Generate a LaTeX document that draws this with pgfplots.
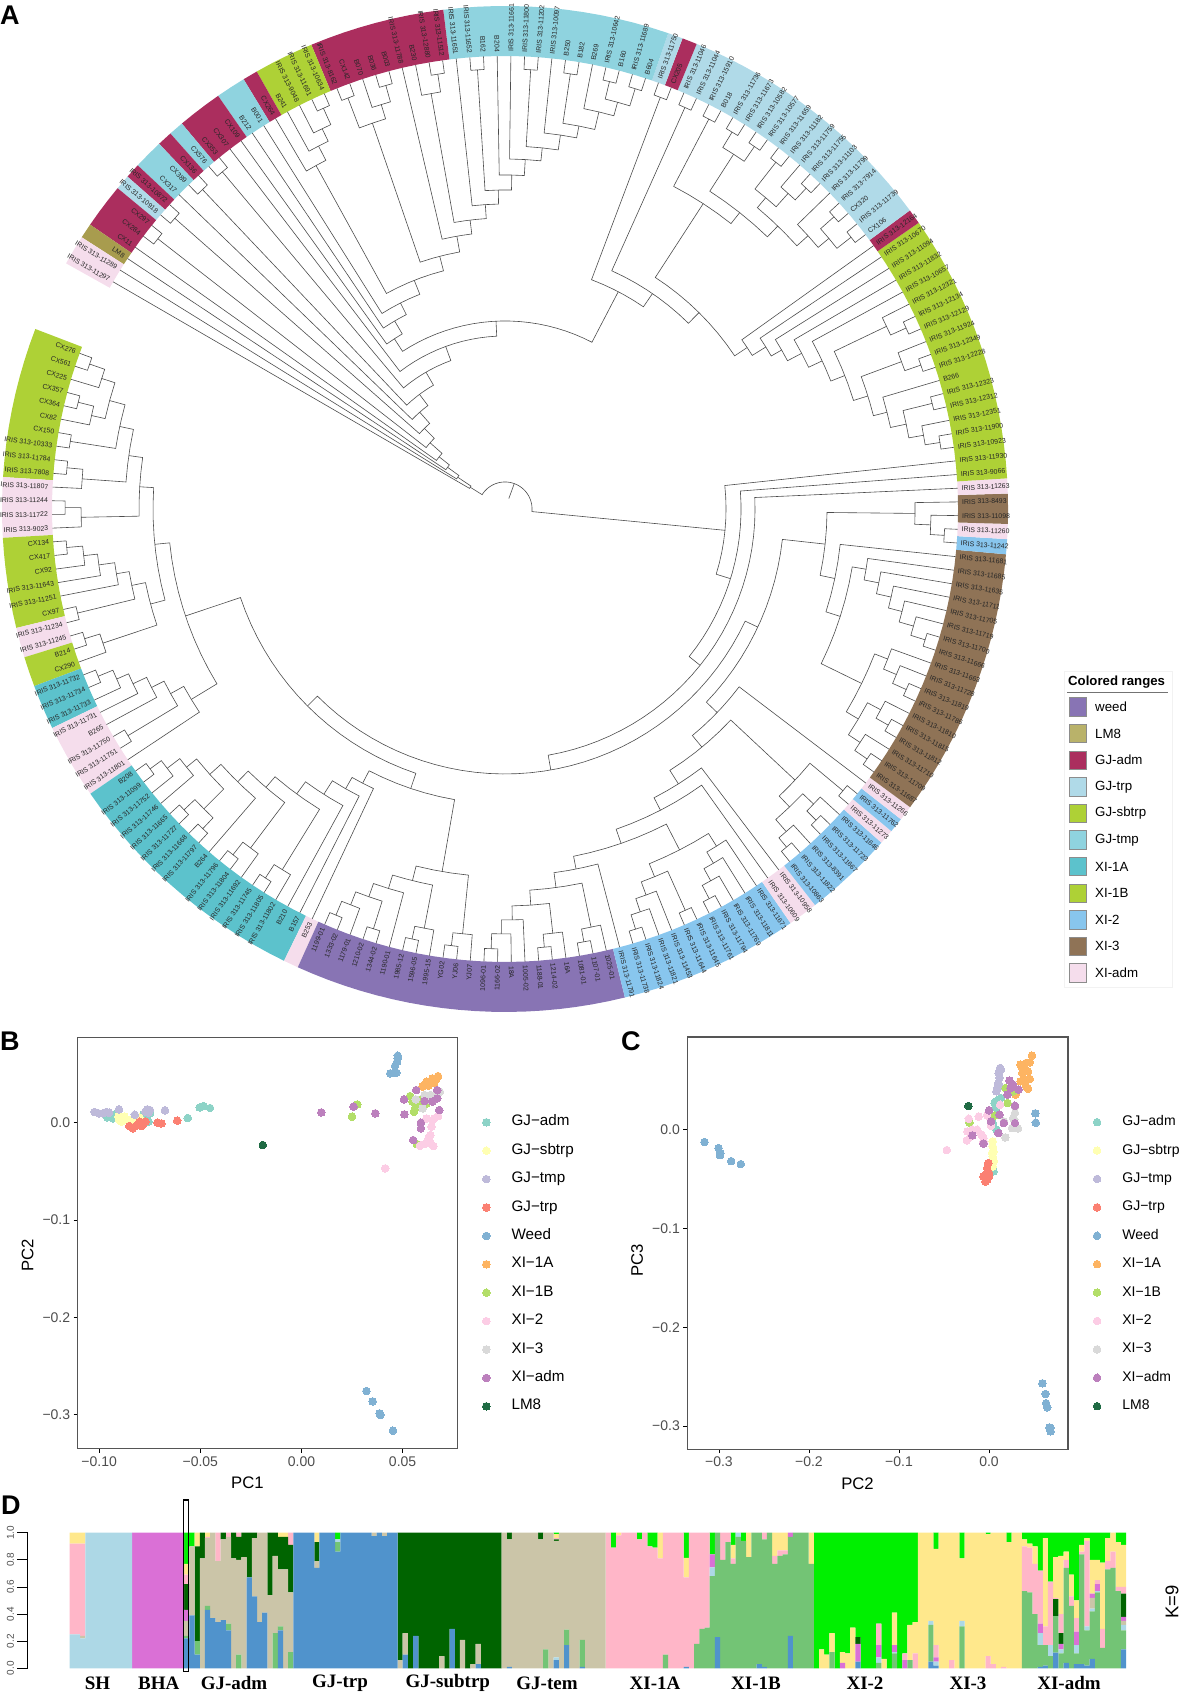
\documentclass[border=0pt]{standalone}
\usepackage{fontspec}
\setmainfont{Liberation Sans}
\newfontfamily\tms{Liberation Serif}
\usepackage{pgfplots}
\usepackage{pgfplotstable}
\pgfplotsset{compat=1.18}

% ranges of the tree
\definecolor{rWeed}{HTML}{8874B4}
\definecolor{rLM}{HTML}{A89C4E}
\definecolor{rLMk}{HTML}{B9B26A}
\definecolor{rAdm}{HTML}{AB2E5E}
\definecolor{rTrp}{HTML}{B0DAE8}
\definecolor{rSub}{HTML}{AED136}
\definecolor{rTmp}{HTML}{8FD3DF}
\definecolor{rOneA}{HTML}{5CC2CC}
\definecolor{rOneB}{HTML}{AED136}
\definecolor{rTwo}{HTML}{88C6EE}
\definecolor{rThree}{HTML}{8F7356}
\definecolor{rXadm}{HTML}{F5DDEC}
% PCA points
\definecolor{pAdm}{HTML}{8DD3C7}
\definecolor{pSub}{HTML}{FFFFB3}
\definecolor{pTmp}{HTML}{BEBADA}
\definecolor{pTrp}{HTML}{FB8072}
\definecolor{pWeed}{HTML}{80B1D3}
\definecolor{pOneA}{HTML}{FDB462}
\definecolor{pOneB}{HTML}{B3DE69}
\definecolor{pTwo}{HTML}{FCCDE5}
\definecolor{pThree}{HTML}{D9D9D9}
\definecolor{pXadm}{HTML}{BC80BD}
\definecolor{pLM}{HTML}{1F6B44}
\definecolor{tickgray}{HTML}{4D4D4D}
\definecolor{framegray}{HTML}{555555}
% structure bars
\definecolor{kB}{HTML}{5093CC}
\definecolor{kG}{HTML}{73C475}
\definecolor{kC}{HTML}{ADD8E6}
\definecolor{kK}{HTML}{CBC5A8}
\definecolor{kM}{HTML}{DA70D6}
\definecolor{kD}{HTML}{006400}
\definecolor{kP}{HTML}{FFB6C8}
\definecolor{kY}{HTML}{FFE88C}
\definecolor{kL}{HTML}{00F000}

\pgfplotsset{
  branch/.style={data cs=polar,draw=black!70,line width=0.6pt,mark=none},
  pt/.style={only marks,mark=*,mark size=3.8pt,color=#1,mark options={line width=0pt}},
  pca/.style={scale only axis,anchor=south west,
    tick align=outside,xtick pos=bottom,ytick pos=left,
    major tick length=4pt,tick style={black,line width=0.8pt},
    axis line style={draw=framegray,line width=1.2pt},
    tick label style={font=\fontsize{14}{16}\selectfont,text=tickgray},
    label style={font=\fontsize{16.7}{18}\selectfont},
    legend cell align=left,
    legend style={draw=none,fill=none,anchor=north west,
      font=\fontsize{14}{16}\selectfont,row sep=15.4pt,column sep=21.5pt,
      nodes={inner sep=0pt,text height=10pt,text depth=3pt}}},
}

% one node of the dendrogram: radius, lower subtree, upper subtree
\newcount\leafno
\def\rp{0}\def\rr{0}
\newcommand\lf{\global\advance\leafno 1
  \pgfmathsetmacro\tmpa{159.9+(\the\leafno-1)*1.7327}%
  \xdef\rp{\tmpa}\xdef\rr{453}}
\newcommand\nd[3]{\begingroup
  #2\let\pa\rp\let\ra\rr
  #3\let\pb\rp\let\rb\rr
  \pgfmathsetmacro\md{(\pa+\pb)/2}%
  \pgfmathtruncatemacro\ns{(\pb-\pa)/3}%
  \xdef\pts{(\pa,\ra)(\pa,#1)}%
  \ifnum\ns>0
    \foreach\k in {1,...,\ns}{%
      \pgfmathsetmacro\t{\pa+\k*(\pb-\pa)/(\ns+1)}\xdef\pts{\pts(\t,#1)}}%
  \fi
  \edef\cmd{\noexpand\addplot[branch] coordinates {\pts(\pb,#1)(\pb,\rb)};}\cmd
  \xdef\rp{\md}\xdef\rr{#1}\endgroup}
\newcommand\ch{\nd{440}{\lf}{\lf}}

% coloured range: first leaf, last leaf, colour
\newcommand\rng[3]{%
  \pgfmathsetmacro\aa{159.9+(#1-1.5)*1.7327}%
  \pgfmathsetmacro\ab{159.9+(#2-0.5)*1.7327}%
  \pgfmathtruncatemacro\ns{max(1,ceil((\ab-\aa)/2))}%
  \xdef\pts{}%
  \foreach\k in {0,...,\ns}{\pgfmathsetmacro\t{\aa+\k*(\ab-\aa)/\ns}\xdef\pts{\pts(\t,503)}}%
  \foreach\k in {\ns,...,0}{\pgfmathsetmacro\t{\aa+\k*(\ab-\aa)/\ns}\xdef\pts{\pts(\t,453)}}%
  \edef\cmd{\noexpand\addplot[data cs=polar,fill=#3,draw=none] coordinates {\pts} --cycle;}\cmd}

% clades, lower leaves first
\newcommand\cLeftA{\nd{366}{\nd{380}{\nd{394}{\nd{410}{\nd{424}{\ch}{\lf}}{\nd{424}{\ch}{\lf}}}{\ch}}{\nd{424}{\ch}{\lf}}}{\nd{424}{\ch}{\lf}}}
\newcommand\cLeftB{\nd{367}{\nd{381}{\nd{394}{\nd{410}{\nd{424}{\ch}{\lf}}{\lf}}{\lf}}{\ch}}{\nd{424}{\ch}{\lf}}}
\newcommand\cLeftC{\nd{367}{\nd{382}{\nd{396}{\nd{411}{\nd{424}{\ch}{\lf}}{\lf}}{\lf}}{\ch}}{\lf}}
\newcommand\cOneA{\nd{309}{\nd{322}{\nd{338}{\nd{353}{\nd{367}{\nd{382}{\nd{397}{\nd{410}{\nd{426}{\ch}{\lf}}{\lf}}{\nd{425}{\ch}{\ch}}}{\lf}}{\nd{424}{\ch}{\lf}}}{\nd{424}{\ch}{\lf}}}{\lf}}{\lf}}{\lf}}
\newcommand\cWeed{\nd{368}{\nd{383}{\nd{397}{\nd{411}{\nd{425}{\ch}{\lf}}{\ch}}{\lf}}{\nd{427}{\ch}{\lf}}}{\nd{427}{\ch}{\lf}}}
\newcommand\cY{\nd{279}{\nd{337}{\nd{352}{\cLeftA}{\cLeftB}}{\cLeftC}}{\nd{295}{\cOneA}{\cWeed}}}
\newcommand\cWeedB{\nd{367}{\nd{382}{\nd{397}{\nd{411}{\nd{425}{\ch}{\lf}}{\lf}}{\nd{427}{\ch}{\lf}}}{\nd{427}{\ch}{\lf}}}{\lf}}
\newcommand\cTwoA{\nd{383}{\nd{397}{\nd{411}{\nd{425}{\ch}{\lf}}{\lf}}{\ch}}{\nd{398}{\nd{411}{\nd{425}{\ch}{\lf}}{\lf}}{\lf}}}
\newcommand\cTwoB{\nd{397}{\nd{412}{\nd{428}{\ch}{\lf}}{\nd{427}{\ch}{\lf}}}{\ch}}
\newcommand\cWa{\nd{294}{\nd{309}{\nd{325}{\nd{339}{\nd{354}{\cWeedB}{\cTwoA}}{\lf}}{\lf}}{\cTwoB}}{\lf}}
\newcommand\cThA{\nd{397}{\nd{411}{\nd{425}{\ch}{\lf}}{\nd{426}{\ch}{\lf}}}{\nd{411}{\nd{425}{\ch}{\lf}}{\lf}}}
\newcommand\cThB{\nd{366}{\nd{381}{\nd{396}{\nd{410}{\nd{425}{\ch}{\lf}}{\lf}}{\lf}}{\lf}}{\lf}}
\newcommand\cWb{\nd{322}{\nd{337}{\nd{352}{\cThA}{\cThB}}{\lf}}{\nd{410}{\nd{426}{\ch}{\lf}}{\lf}}}
\newcommand\cLow{\nd{221}{\nd{236}{\nd{250}{\nd{265}{\cY}{\nd{279}{\cWa}{\cWb}}}{\lf}}{\lf}}{\lf}}
\newcommand\cSub{\nd{291}{\nd{307}{\nd{319}{\nd{335}{\nd{350}{\nd{365}{\nd{380}{\nd{394}{\nd{410}{\nd{425}{\ch}{\lf}}{\ch}}{\lf}}{\nd{423}{\ch}{\lf}}}{\nd{423}{\ch}{\lf}}}{\lf}}{\lf}}{\lf}}{\lf}}{\lf}}
\newcommand\cTrp{\nd{364}{\nd{378}{\nd{393}{\nd{408}{\nd{422}{\ch}{\ch}}{\lf}}{\nd{406}{\nd{424}{\ch}{\lf}}{\ch}}}{\nd{422}{\ch}{\ch}}}{\ch}}
\newcommand\cNa{\nd{245}{\nd{261}{\nd{276}{\cSub}{\cTrp}}{\ch}}{\ch}}
\newcommand\cTmp{\nd{305}{\nd{319}{\nd{334}{\nd{350}{\nd{363}{\nd{378}{\nd{390}{\nd{408}{\nd{422}{\ch}{\ch}}{\lf}}{\ch}}{\lf}}{\ch}}{\lf}}{\lf}}{\ch}}{\lf}}
\newcommand\cNb{\nd{203}{\nd{218}{\nd{231}{\nd{246}{\nd{261}{\nd{277}{\nd{291}{\cTmp}{\nd{422}{\ch}{\lf}}}{\lf}}{\nd{408}{\nd{423}{\ch}{\lf}}{\ch}}}{\nd{392}{\nd{408}{\nd{422}{\ch}{\lf}}{\lf}}{\lf}}}{\lf}}{\lf}}{\lf}}
\newcommand\cHigh{\nd{41}{\nd{57}{\nd{71}{\nd{84}{\nd{100}{\nd{114}{\nd{129}{\nd{143}{\nd{158}{\nd{173}{\nd{188}{\cNa}{\cNb}}{\lf}}{\ch}}{\ch}}{\lf}}{\ch}}{\ch}}{\lf}}{\lf}}{\lf}}{\lf}}

% ancestry proportions, per individual, bottom to top
\pgfplotstableread{
i B G C K M D P Y L
0 0 0 .25 0 0 0 .67 .08 0
1 0 0 .25 0 0 0 .67 .08 0
2 0 0 .22 .02 0 0 .68 .08 0
3 0 0 1 0 0 0 0 0 0
4 0 0 1 0 0 0 0 0 0
5 0 0 1 0 0 0 0 0 0
6 0 0 1 0 0 0 0 0 0
7 0 0 1 0 0 0 0 0 0
8 0 0 1 0 0 0 0 0 0
9 0 0 1 0 0 0 0 0 0
10 0 0 1 0 0 0 0 0 0
11 0 0 1 0 0 0 0 0 0
12 0 0 0 0 1 0 0 0 0
13 0 0 0 0 1 0 0 0 0
14 0 0 0 0 1 0 0 0 0
15 0 0 0 0 1 0 0 0 0
16 0 0 0 0 1 0 0 0 0
17 0 0 0 0 1 0 0 0 0
18 0 0 0 0 1 0 0 0 0
19 0 0 0 0 1 0 0 0 0
20 0 0 0 0 1 0 0 0 0
21 0 0 0 0 1 0 0 0 0
22 .22 .02 0 .11 .08 .19 .07 .08 .23
23 .39 0 0 .51 0 0 0 0 .10
24 .10 .10 0 0 0 .70 0 .10 0
25 0 0 0 .81 0 .19 0 0 0
26 .43 .03 0 .50 0 0 .01 .03 0
27 .37 0 0 .63 0 0 0 0 0
28 .34 0 0 .45 0 0 .21 0 0
29 .355 0 0 .595 0 .05 0 0 0
30 .28 .05 0 .64 0 0 .03 0 0
31 0 0 0 .81 0 .19 0 0 0
32 0 .10 0 .70 0 .17 .03 0 0
33 0 0 0 .82 0 .18 0 0 0
34 .67 0 0 0 0 .33 0 0 0
35 .53 0 0 .43 0 .04 0 0 0
36 .34 0 0 .66 0 0 0 0 0
37 .41 0 0 .59 0 0 0 0 0
38 0 0 0 .54 0 .46 0 0 0
39 0 .26 0 .57 0 .17 0 0 0
40 .28 .03 0 .42 0 .24 0 .03 0
41 0 0 0 .73 0 .24 0 .03 0
42 0 .12 0 .44 0 .35 .09 0 0
43 1 0 0 0 0 0 0 0 0
44 1 0 0 0 0 0 0 0 0
45 1 0 0 0 0 0 0 0 0
46 1 0 0 0 0 0 0 0 0
47 .74 0 0 .05 0 .14 0 .07 0
48 1 0 0 0 0 0 0 0 0
49 1 0 0 0 0 0 0 0 0
50 1 0 0 0 0 0 0 0 0
51 .86 .07 .02 0 0 0 0 0 .05
52 1 0 0 0 0 0 0 0 0
53 1 0 0 0 0 0 0 0 0
54 1 0 0 0 0 0 0 0 0
55 1 0 0 0 0 0 0 0 0
56 1 0 0 0 0 0 0 0 0
57 1 0 0 0 0 0 0 0 0
58 .975 0 0 .025 0 0 0 0 0
59 1 0 0 0 0 0 0 0 0
60 .975 0 0 .025 0 0 0 0 0
61 1 0 0 0 0 0 0 0 0
62 1 0 0 0 0 0 0 0 0
63 0 0 0 .06 0 .94 0 0 0
64 .10 0 0 .16 0 .74 0 0 0
65 0 0 0 0 0 1 0 0 0
66 .24 0 0 0 0 .76 0 0 0
67 0 0 0 0 0 1 0 0 0
68 0 0 0 0 0 1 0 0 0
69 0 0 0 0 0 1 0 0 0
70 0 0 0 0 0 1 0 0 0
71 0 0 0 .09 0 .91 0 0 0
72 0 0 0 0 0 1 0 0 0
73 .29 0 0 0 0 .71 0 0 0
74 0 0 0 0 0 1 0 0 0
75 0 0 0 .21 0 .79 0 0 0
76 0 0 0 0 0 1 0 0 0
77 0 0 0 .03 0 .97 0 0 0
78 .03 0 0 .15 0 .82 0 0 0
79 0 0 0 0 0 1 0 0 0
80 0 0 0 0 0 1 0 0 0
81 0 0 0 0 0 1 0 0 0
82 0 0 0 0 0 1 0 0 0
83 0 0 0 1 0 0 0 0 0
84 .01 0 0 .94 0 .05 0 0 0
85 0 0 0 1 0 0 0 0 0
86 0 0 0 1 0 0 0 0 0
87 0 0 0 1 0 0 0 0 0
88 0 0 0 1 0 0 0 0 0
89 0 0 0 1 0 0 0 0 0
90 0 0 0 .95 0 .05 0 0 0
91 0 .14 0 .86 0 0 0 0 0
92 0 0 0 1 0 0 0 0 0
93 .06 0 .02 .86 0 .01 .01 .03 .01
94 0 0 0 1 0 0 0 0 0
95 .17 .115 0 .715 0 0 0 0 0
96 0 0 0 1 0 0 0 0 0
97 0 0 0 1 0 0 0 0 0
98 .01 .20 0 .79 0 0 0 0 0
99 0 0 0 1 0 0 0 0 0
100 0 0 0 1 0 0 0 0 0
101 0 0 0 1 0 0 0 0 0
102 0 0 0 1 0 0 0 0 0
103 0 0 0 0 0 0 1 0 0
104 0 0 0 0 0 0 .89 0 .11
105 0 0 0 0 0 0 .98 .02 0
106 0 0 0 0 0 0 1 0 0
107 0 0 0 0 0 0 1 0 0
108 0 0 0 0 0 0 1 0 0
109 0 0 0 0 0 0 .95 0 .05
110 0 0 0 0 0 0 1 0 0
111 0 0 0 0 0 0 .90 0 .10
112 0 0 0 0 0 0 .89 0 .11
113 0 0 0 0 0 0 .81 .19 0
114 0 .10 0 0 0 0 .90 0 0
115 0 0 0 0 0 0 1 0 0
116 0 0 0 0 0 0 1 0 0
117 0 0 0 0 0 0 1 0 0
118 .01 0 0 0 0 0 .66 .145 .185
119 0 0 0 0 0 0 1 0 0
120 0 .18 0 0 0 0 .82 0 0
121 0 .29 0 0 0 0 .71 0 0
122 0 .30 0 0 0 0 .70 0 0
123 0 .68 .065 0 .095 0 0 0 .16
124 .23 .77 0 0 0 0 0 0 0
125 0 .80 0 0 0 0 .20 0 0
126 0 .93 0 0 0 0 .07 0 0
127 0 .77 0 0 0 0 .04 .10 .09
128 0 .97 .03 0 0 0 0 0 0
129 0 .94 0 0 0 0 0 0 .06
130 0 .82 0 0 0 0 0 .18 0
131 0 1 0 0 0 0 0 0 0
132 .03 .97 0 0 0 0 0 0 0
133 .01 .94 0 0 0 0 .05 0 0
134 0 1 0 0 0 0 0 0 0
135 0 .77 0 0 0 0 .06 .17 0
136 0 .83 0 0 0 0 .04 .13 0
137 0 .84 0 0 0 0 .03 .13 0
138 .24 .73 0 0 .03 0 0 0 0
139 0 1 0 0 0 0 0 0 0
140 0 1 0 0 0 0 0 0 0
141 0 1 0 0 0 0 0 0 0
142 0 .77 0 0 0 0 0 .23 0
143 0 0 0 0 0 0 0 0 1
144 0 0 0 0 0 0 0 .14 .86
145 0 0 0 0 0 0 0 .10 .90
146 0 .12 0 0 0 0 0 .14 .74
147 0 0 0 0 0 0 0 0 1
148 0 0 0 0 .04 0 0 .08 .88
149 0 0 0 0 0 0 0 .11 .89
150 0 0 0 0 0 0 0 .30 .70
151 .05 0 0 0 .13 .05 0 0 .77
152 0 0 0 0 0 0 0 0 1
153 0 0 0 0 0 0 0 0 1
154 0 0 0 0 0 0 0 0 1
155 0 .04 .04 0 .09 0 .16 0 .67
156 0 0 0 0 0 0 0 .07 .93
157 0 0 0 0 0 0 0 0 1
158 0 .11 .01 0 .05 0 0 .24 .59
159 0 0 0 0 0 0 0 0 1
160 0 0 0 0 .06 0 .05 0 .89
161 0 .06 0 0 0 0 0 .26 .68
162 0 0 0 0 0 0 .11 .23 .66
163 0 0 0 0 0 0 0 1 0
164 0 0 0 0 0 0 0 1 0
165 .05 .27 .03 0 0 0 0 .65 0
166 .02 0 .03 0 .03 0 .09 .71 .12
167 0 0 0 0 0 0 0 1 0
168 0 0 0 0 0 0 0 1 0
169 0 0 0 0 0 0 .06 .94 0
170 0 0 0 0 0 0 0 1 0
171 0 .31 .04 0 0 0 0 .46 .19
172 0 0 0 0 0 0 0 1 0
173 0 0 0 0 0 0 0 1 0
174 0 0 0 0 0 0 0 1 0
175 0 0 0 0 0 0 0 1 0
176 0 0 0 0 0 0 .09 .90 .01
177 0 0 0 0 0 0 .03 .97 0
178 0 0 0 0 0 0 0 1 0
179 0 0 0 0 0 0 .01 .99 0
180 0 0 0 0 0 0 0 .93 .07
181 0 0 0 0 0 0 0 1 0
182 0 0 0 0 0 0 0 1 0
183 0 .57 0 0 0 0 .33 .05 .05
184 0 .56 0 0 0 0 .33 .03 .08
185 0 .40 0 0 0 0 .37 .13 .10
186 .01 .16 .09 0 .07 0 .39 0 .28
187 .02 .15 0 0 0 0 .14 .65 .04
188 0 .09 .08 0 0 0 .47 0 .36
189 .115 .27 0 0 0 .125 .01 .30 .18
190 0 .11 .03 0 .04 .08 .14 .43 .17
191 .04 .70 0 0 0 0 .06 .06 .14
192 0 .46 0 0 0 0 .07 .16 .31
193 .03 .08 .06 0 .10 0 .10 .13 .50
194 .03 .81 0 0 0 0 .02 .05 .09
195 .02 .26 .03 0 0 0 .63 .02 .04
196 .07 .35 .02 .08 .03 0 0 .25 .20
197 0 .56 .01 0 .05 0 .03 .15 .20
198 0 .15 0 0 0 0 .14 .49 .22
199 0 .73 0 0 0 0 .06 .17 .04
200 0 .74 0 0 0 0 .12 .14 0
201 0 .57 0 0 0 0 .03 .33 .07
202 .14 .14 .04 .03 .03 .17 .05 .31 .09
}\structtab

\newcommand\I{IRIS 313-}

\begin{document}
\begin{tikzpicture}
\useasboundingbox (0,0) rectangle (1181pt,1693pt);

% ---- A: circular tree, polar data around the centre of the ring
\begin{axis}[at={(0,0)},anchor=south west,scale only axis,width=1181pt,height=1693pt,
  xmin=-505,xmax=676,ymin=-1184,ymax=509,hide axis,clip=false]
  \rng{1}{10}{rOneB}\rng{11}{14}{rXadm}\rng{15}{20}{rOneB}\rng{21}{22}{rXadm}
  \rng{23}{24}{rOneB}\rng{25}{27}{rOneA}\rng{28}{32}{rXadm}\rng{33}{49}{rOneA}
  \rng{50}{50}{rXadm}\rng{51}{72}{rWeed}\rng{73}{84}{rTwo}\rng{85}{86}{rXadm}
  \rng{87}{92}{rTwo}\rng{93}{93}{rXadm}\rng{94}{94}{rTwo}\rng{95}{95}{rXadm}
  \rng{96}{113}{rThree}\rng{114}{114}{rTwo}\rng{115}{115}{rXadm}\rng{116}{117}{rThree}
  \rng{118}{118}{rXadm}\rng{119}{136}{rSub}\rng{137}{137}{rAdm}\rng{138}{155}{rTrp}
  \rng{156}{156}{rAdm}\rng{157}{157}{rTrp}\rng{158}{172}{rTmp}\rng{173}{181}{rAdm}
  \rng{182}{185}{rSub}\rng{186}{186}{rAdm}\rng{187}{188}{rTmp}\rng{189}{191}{rAdm}
  \rng{192}{192}{rTmp}\rng{193}{193}{rAdm}\rng{194}{195}{rTmp}\rng{196}{196}{rAdm}
  \rng{197}{197}{rTrp}\rng{198}{200}{rAdm}\rng{201}{201}{rLM}\rng{202}{203}{rXadm}
  \nd{27}{\cLow}{\cHigh}
  \addplot[branch] coordinates {(70,11)(70,27)};
\end{axis}

% ---- B
\begin{axis}[pca,at={(77.7pt,244.3pt)},width=379.6pt,height=411.4pt,
  xmin=-0.1106,xmax=0.07703,ymin=-0.3347,ymax=0.0877,
  xtick={-0.10,-0.05,0,0.05},xticklabels={−0.10,−0.05,0.00,0.05},
  ytick={-0.3,-0.2,-0.1,0},yticklabels={−0.3,−0.2,−0.1,0.0},
  xlabel={PC1},ylabel={PC2},
  xlabel style={at={(axis description cs:0.447,-0.083)},anchor=center},
  ylabel style={at={(axis description cs:-0.132,0.47)},anchor=center},
  legend style={at={(axis description cs:1.058,0.8145)},font=\fontsize{15.2}{17}\selectfont}]
  \addplot[pt=pAdm] coordinates {(-0.0942,0.0062)(-0.0960,0.0055)(-0.0932,0.0044)(-0.0913,0.0096)(-0.0781,0.0089)(-0.0762,0.0062)(-0.0749,0.0096)(-0.0756,0.0010)(-0.0562,0.0048)(-0.0503,0.0157)(-0.0484,0.0171)(-0.0452,0.0151)(-0.0923,0.0079)(-0.0771,0.0027)};
  \addlegendentry{GJ−adm}
  \addplot[pt=pSub] coordinates {(-0.0904,0.0062)(-0.0885,0.0044)(-0.0866,0.0034)(-0.0889,0.0010)(-0.0838,0.0034)(-0.0800,0.0055)(-0.0900,0.0027)(-0.0875,0.0062)};
  \addlegendentry{GJ−sbtrp}
  \addplot[pt=pTmp] coordinates {(-0.1023,0.0110)(-0.1002,0.0096)(-0.0983,0.0096)(-0.0951,0.0103)(-0.0902,0.0137)(-0.0824,0.0082)(-0.0771,0.0113)(-0.0749,0.0130)(-0.0762,0.0137)(-0.0675,0.0127)(-0.0964,0.0110)(-0.0756,0.0103)};
  \addlegendentry{GJ−tmp}
  \addplot[pt=pTrp] coordinates {(-0.0851,-0.0034)(-0.0834,-0.0058)(-0.0819,-0.0034)(-0.0800,-0.0024)(-0.0781,-0.0014)(-0.0771,0.0010)(-0.0800,0.0010)(-0.0711,0)(-0.0692,-0.0007)(-0.0614,0.0021)(-0.0790,-0.0034)};
  \addlegendentry{GJ−trp}
  \addplot[pt=pWeed] coordinates {(0.0476,0.0688)(0.0476,0.0660)(0.0473,0.0626)(0.0463,0.0585)(0.0439,0.0507)(0.0458,0.0513)(0.0469,0.0513)(0.0321,-0.2755)(0.0352,-0.2861)(0.0386,-0.2984)(0.0391,-0.3001)(0.0452,-0.3162)};
  \addlegendentry{Weed}
  \addplot[pt=pOneA] coordinates {(0.0675,0.0479)(0.0647,0.0455)(0.0618,0.0421)(0.0666,0.0445)(0.0637,0.0404)(0.0609,0.0387)(0.0656,0.0411)(0.0599,0.0370)(0.0628,0.0380)};
  \addlegendentry{XI−1A}
  \addplot[pt=pOneB] coordinates {(0.0276,0.0188)(0.0250,0.0062)(0.0537,0.0274)(0.0548,0.0216)(0.0562,0.0147)(0.0556,0.0113)(0.0571,0.0181)(0.0586,0.0233)(0.0618,0.0198)(0.0571,-0.0219)(0.0599,0.0157)};
  \addlegendentry{XI−1B}
  \addplot[pt=pTwo] coordinates {(0.0414,-0.0469)(0.0586,-0.0236)(0.0609,-0.0219)(0.0637,-0.0212)(0.0652,-0.0240)(0.0637,-0.0127)(0.0643,-0.0041)(0.0647,0.0027)(0.0675,0.0068)(0.0618,0.0044)(0.0656,0.0044)(0.0628,-0.0161)};
  \addlegendentry{XI−2}
  \addplot[pt=pThree] coordinates {(0.0565,0.0240)(0.0609,0.0284)(0.0637,0.0284)(0.0656,0.0267)(0.0684,0.0318)(0.0599,0.0147)(0.0628,0.0233)(0.0666,0.0301)};
  \addlegendentry{XI−3}
  \addplot[pt=pXadm] coordinates {(0.0098,0.0106)(0.0257,0.0164)(0.0365,0.0096)(0.0509,0.0086)(0.0507,0.0240)(0.0567,0.0335)(0.0552,-0.0178)(0.0590,0)(0.0590,-0.0058)(0.0681,0.0130)(0.0671,0.0250)(0.0647,0.0216)(0.0609,0.0222)(0.0671,0.0335)};
  \addlegendentry{XI−adm}
  \addplot[pt=pLM] coordinates {(-0.0191,-0.0229)};
  \addlegendentry{LM8}
\end{axis}

% ---- C
\begin{axis}[pca,at={(687.4pt,243.7pt)},width=380.6pt,height=412.3pt,
  xmin=-0.335,xmax=0.0877,ymin=-0.3236,ymax=0.0939,
  xtick={-0.3,-0.2,-0.1,0},xticklabels={−0.3,−0.2,−0.1,0.0},
  ytick={-0.3,-0.2,-0.1,0},yticklabels={−0.3,−0.2,−0.1,0.0},
  xlabel={PC2},ylabel={PC3},
  xlabel style={at={(axis description cs:0.447,-0.083)},anchor=center},
  ylabel style={at={(axis description cs:-0.132,0.458)},anchor=center},
  legend style={at={(axis description cs:1.058,0.8145)}}]
  \addplot[pt=pAdm] coordinates {(0.0049,-0.0422)(0.0082,0)(0.0041,0.0068)(0.0062,0.0270)(0.0103,0.0304)(0.0082,0.0220)(0.0132,0.0321)(0.0033,0.0084)(0.0074,0.0287)(0.0091,0.0253)};
  \addlegendentry{GJ−adm}
  \addplot[pt=pSub] coordinates {(0.0041,-0.0118)(0.0041,-0.0169)(0.0049,-0.0220)(0.0041,-0.0270)(0.0053,-0.0321)(0.0033,-0.0236)(0.0041,-0.0372)};
  \addlegendentry{GJ−sbtrp}
  \addplot[pt=pTmp] coordinates {(0.0123,0.0625)(0.0107,0.0574)(0.0115,0.0524)(0.0103,0.0473)(0.0091,0.0422)(0.0123,0.0439)(0.0082,0.0389)(0.0132,0.0608)};
  \addlegendentry{GJ−tmp}
  \addplot[pt=pTrp] coordinates {(-0.0008,-0.0338)(-0.0021,-0.0389)(-0.0041,-0.0456)(0,-0.0473)(-0.0041,-0.0524)(0,-0.0439)(-0.0062,-0.0473)(-0.0021,-0.0507)};
  \addlegendentry{GJ−trp}
  \addplot[pt=pWeed] coordinates {(-0.3160,-0.0125)(-0.3004,-0.0186)(-0.2984,-0.0236)(-0.2988,-0.0257)(-0.2864,-0.0318)(-0.2757,-0.0348)(0.0514,0.0166)(0.0519,0.0071)(0.0593,-0.2568)(0.0626,-0.2676)(0.0634,-0.2770)(0.0646,-0.2811)(0.0671,-0.3014)(0.0683,-0.3020)(0.0683,-0.3054)};
  \addlegendentry{Weed}
  \addplot[pt=pOneA] coordinates {(0.0477,0.0750)(0.0350,0.0659)(0.0412,0.0676)(0.0453,0.0682)(0.0370,0.0574)(0.0432,0.0591)(0.0391,0.0507)(0.0453,0.0514)(0.0350,0.0490)(0.0412,0.0439)(0.0432,0.0416)(0.0296,0.0355)(0.0370,0.0625)};
  \addlegendentry{XI−1A}
  \addplot[pt=pOneB] coordinates {(-0.0218,0.0071)(0.0062,0.0145)(0.0206,0.0270)(0.0185,0.0422)(0.0267,0.0389)(0.0206,0.0355)};
  \addlegendentry{XI−1B}
  \addplot[pt=pTwo] coordinates {(-0.0469,-0.0206)(-0.0226,0.0111)(-0.0115,0.0132)(-0.0021,0.0145)(-0.0239,-0.0017)(-0.0185,0)(-0.0132,0)(-0.0082,-0.0051)(-0.0247,-0.0108)(-0.0206,-0.0068)(-0.0062,-0.0084)(0.0021,0.0041)(0.0123,0.0253)(-0.0062,-0.0118)};
  \addlegendentry{XI−2}
  \addplot[pt=pThree] coordinates {(0.0288,0.0230)(0.0288,0.0169)(0.0280,0.0101)(0.0255,0.0017)(0.0321,0.0014)(0.0165,0.0084)(0.0181,-0.0078)(0.0267,0.0118)};
  \addlegendentry{XI−3}
  \addplot[pt=pXadm] coordinates {(0,0.0196)(0.0226,0.0497)(0.0267,0.0456)(0.0329,0.0405)(0.0206,0.0355)(0.0288,0.0243)(0.0115,0.0152)(0.0103,-0.0034)(-0.0062,-0.0142)(-0.0185,-0.0057)(0.0021,0.0084)(0.0165,0.0068)(0.0288,0.0068)(0.0239,0.0422)};
  \addlegendentry{XI−adm}
  \addplot[pt=pLM] coordinates {(-0.0230,0.0240)};
  \addlegendentry{LM8}
\end{axis}

% ---- D: admixture bars, y axis set off to the left of the first bar
\begin{axis}[at={(27.5pt,24.7pt)},anchor=south west,scale only axis,width=1098.5pt,height=135.6pt,
  ybar stacked,bar width=1,xmin=-8.61,xmax=202.5,ymin=0,ymax=1,
  axis x line=none,axis y line=left,y axis line style={-,black,line width=0.8pt},
  ytick={0,0.2,0.4,0.6,0.8,1},yticklabels={0.0,0.2,0.4,0.6,0.8,1.0},
  major tick length=10pt,tick align=outside,tick style={black,line width=0.8pt},
  yticklabel style={rotate=90,anchor=south,font=\fontsize{10}{11}\selectfont,text=tickgray}]
  \addplot[fill=kB,draw=none] table[x=i,y=B] {\structtab};
  \addplot[fill=kG,draw=none] table[x=i,y=G] {\structtab};
  \addplot[fill=kC,draw=none] table[x=i,y=C] {\structtab};
  \addplot[fill=kK,draw=none] table[x=i,y=K] {\structtab};
  \addplot[fill=kM,draw=none] table[x=i,y=M] {\structtab};
  \addplot[fill=kD,draw=none] table[x=i,y=D] {\structtab};
  \addplot[fill=kP,draw=none] table[x=i,y=P] {\structtab};
  \addplot[fill=kY,draw=none] table[x=i,y=Y] {\structtab};
  \addplot[fill=kL,draw=none] table[x=i,y=L] {\structtab};
\end{axis}

% ---- text and furniture, in pixels of the reference (y downwards)
\begin{scope}[x=1pt,y=-1pt,yshift=1693pt]
  \foreach \nm [count=\i] in {CX276,CX561,CX225,CX357,CX364,CX82,CX150,\I10333,\I11784,\I7808,
    \I11807,\I11244,\I11722,\I9023,CX134,CX417,CX92,\I11643,\I11251,CX97,
    \I11234,\I11245,B214,CX290,\I11732,\I11734,\I11733,\I11731,B265,\I11750,
    \I11751,\I11801,B208,\I11099,\I11752,\I11746,\I11665,\I11727,\I11668,\I11797,
    B264,\I11796,\I11804,\I11692,\I11745,\I11805,\I11802,B210,B157,B253,
    1199-01,1333-02,1179-01,1210-02,1344-02,1190-01,1985-12,1596-05,1995-15,YG02,
    YJ06,YJ07,1096-01,1166-02,18A,1005-02,1188-01,1214-02,16A,1081-01,
    1107-01,1025-01,\I11791,\I11738,\I11824,\I11821,\I11453,\I11644,\I11645,\I11761,
    \I11794,\I11769,\I11811,\I11671,\I10609,\I10958,\I10863,\I11822,\I8391,\I11667,
    \I11723,\I11646,\I11273,\I11762,\I11266,\I11687,\I11709,\I11710,\I11812,\I11815,
    \I11810,\I11786,\I11819,\I11728,\I11663,\I11666,\I11700,\I11719,\I11705,\I11711,
    \I11635,\I11685,\I11681,\I11242,\I11260,\I11098,\I8493,\I11263,\I9066,\I11930,
    \I10923,\I11900,\I12351,\I12312,\I12323,B266,\I12228,\I12349,\I11924,\I12129,
    \I12134,\I12321,\I10657,\I11832,\I11094,\I10670,\I12164,CX106,\I11739,CX320,
    \I7914,\I11799,\I11103,\I11755,\I11759,\I11182,\I11659,\I10577,\I10582,\I11673,
    \I11736,B018,\I15910,\I11044,\I11046,CX205,\I11750,B604,\I11689,B160,
    \I10642,B269,B182,B250,\I10097,\I11202,\I11800,\I11661,B204,B162,
    \I11652,\I11651,\I11512,\I12880,B230,\I11788,B003,B036,B070,CX142,
    \I8162,\I10634,\I11691,\I9048,B241,CX264,B001,B212,CX109,CX307,
    CX353,CX576,CX136,CX389,CX317,\I10872,\I10918,CX297,CX284,CX11,
    LM8,\I11289,\I11297}{%
    \pgfmathsetmacro\a{159.9+(\i-1)*1.7327}%
    \pgfmathsetmacro\lx{505+457*cos(\a)}%
    \pgfmathsetmacro\ly{509-457*sin(\a)}%
    \pgfmathtruncatemacro\onleft{(\a<270||\a>450)?1:0}%
    \ifnum\onleft=1
      \pgfmathsetmacro\rot{\a-180}%
      \node[rotate=\rot,anchor=east,inner sep=0pt,text=black!85,font=\fontsize{6.9}{7}\selectfont] at (\lx,\ly) {\nm};
    \else
      \node[rotate=\a,anchor=west,inner sep=0pt,text=black!85,font=\fontsize{6.9}{7}\selectfont] at (\lx,\ly) {\nm};
    \fi}

  % legend of panel A
  \draw[draw=black!5,line width=0.8pt] (1064.7,671) rectangle (1172,987);
  \node[anchor=west,inner sep=0pt,font=\bfseries\fontsize{13.2}{15}\selectfont] at (1068,682) {Colored ranges};
  \draw[black!55,line width=0.8pt] (1067,692) -- (1168,692);
  \foreach \col/\nm [count=\k from 0] in {rWeed/weed,rLMk/LM8,rAdm/GJ-adm,rTrp/GJ-trp,rSub/GJ-sbtrp,rTmp/GJ-tmp,rOneA/XI-1A,rOneB/XI-1B,rTwo/XI-2,rThree/XI-3,rXadm/XI-adm}{%
    \pgfmathsetmacro\yy{707+26.6*\k}%
    \draw[fill=\col,draw=black!45,line width=0.7pt] (1069.6,\yy-9.2) rectangle (1086.5,\yy+9.2);
    \node[anchor=west,inner sep=0pt,font=\fontsize{13.3}{15}\selectfont] at (1095,\yy) {\nm};}

  % panel letters
  \foreach \nm/\xx/\yy in {A/0/15.5,B/0/1041.5,C/621/1041.5,D/1/1505}
    \node[anchor=west,inner sep=0pt,font=\bfseries\fontsize{27}{29}\selectfont] at (\xx,\yy) {\nm};

  % panel D: frame round the first admixed bar, group names, K
  \draw[black,line width=1.3pt] (183.7,1500) rectangle (188.7,1671.7);
  \foreach \nm/\xx in {SH/97.6,BHA/158.8,GJ-adm/234,GJ-trp/340,GJ-subtrp/447.8,GJ-tem/547,XI-1A/655,XI-1B/756,XI-2/865,XI-3/968,XI-adm/1069}
    \node[inner sep=0pt,font=\tms\bfseries\fontsize{19}{21}\selectfont] at (\xx,1683) {\nm};
  \node[rotate=90,inner sep=0pt,font=\fontsize{18.4}{20}\selectfont] at (1172,1601.7) {K=9};
\end{scope}
\end{tikzpicture}
\end{document}
